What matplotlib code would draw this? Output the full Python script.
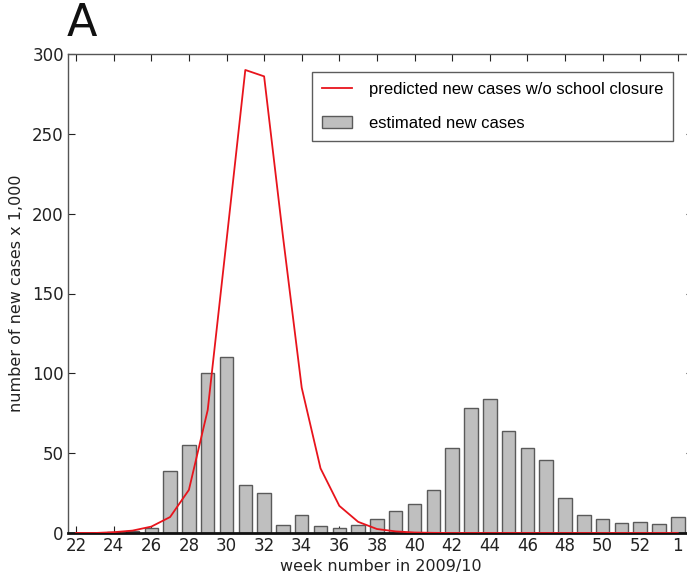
import matplotlib
matplotlib.use("Agg")
import matplotlib.pyplot as plt
import numpy as np

weeks = list(range(22, 55))  # 54 == week 1 of 2010
tick_weeks = list(range(22, 55, 2))
tick_labels = [str(w) for w in range(22, 53, 2)] + ["1"]

estimated = [0, 0, 0.5, 1, 3, 39, 55, 100, 110, 30, 25, 5, 11, 4.5, 3, 5,
             9, 14, 18, 27, 53, 78, 84, 64, 53, 46, 22, 11, 9, 6, 7, 5.6, 10]
predicted = [0, 0, 0.5, 1.5, 4, 10, 27, 77, 183, 290, 286, 186, 91, 40.5, 17, 7,
             2.5, 1, 0.3, 0.1, 0, 0, 0, 0, 0, 0, 0, 0, 0, 0, 0, 0, 0]

fig = plt.figure(figsize=(6.87, 5.80), dpi=100)
ax = fig.add_axes([68/687, 1-533/580, 625/687, 479/580])

ax.bar(weeks, estimated, width=0.72, color="#bfbfbf", edgecolor="#5a5a5a",
       linewidth=1.0, label="estimated new cases", zorder=2)
ax.plot(weeks, predicted, color="#e8141c", linewidth=1.3,
        label="predicted new cases w/o school closure", zorder=3)

ax.set_xlim(21.57, 54.81)
ax.set_ylim(0, 300)
ax.set_yticks([0, 50, 100, 150, 200, 250, 300])
ax.set_xticks(tick_weeks)
ax.set_xticklabels(tick_labels)
ax.tick_params(direction="in", top=True, right=True, length=5, width=0.8,
               labelsize=12, colors="#222222", pad=3)
for s in ["left", "top", "right"]:
    ax.spines[s].set_color("#555555")
    ax.spines[s].set_linewidth(1.0)
ax.spines["bottom"].set_color("#111111")
ax.spines["bottom"].set_linewidth(2.0)

ax.set_xlabel("week number in 2009/10", fontsize=11.5, color="#222222", labelpad=3)
ax.set_ylabel("number of new cases x 1,000", fontsize=11.5, color="#222222", labelpad=6)

leg = ax.legend(loc="upper right", bbox_to_anchor=(0.968, 0.962),
                borderaxespad=0,
                prop={"family": "Liberation Sans", "size": 12},
                frameon=True, fancybox=False, edgecolor="#333333",
                borderpad=0.6, labelspacing=1.1, handlelength=1.8,
                handletextpad=1.0)
leg.get_frame().set_linewidth(1.0)

fig.text(82/687, 1-23/580, "A", fontsize=32, ha="center", va="center", color="#111111")

fig.savefig("out.png", dpi=100)
